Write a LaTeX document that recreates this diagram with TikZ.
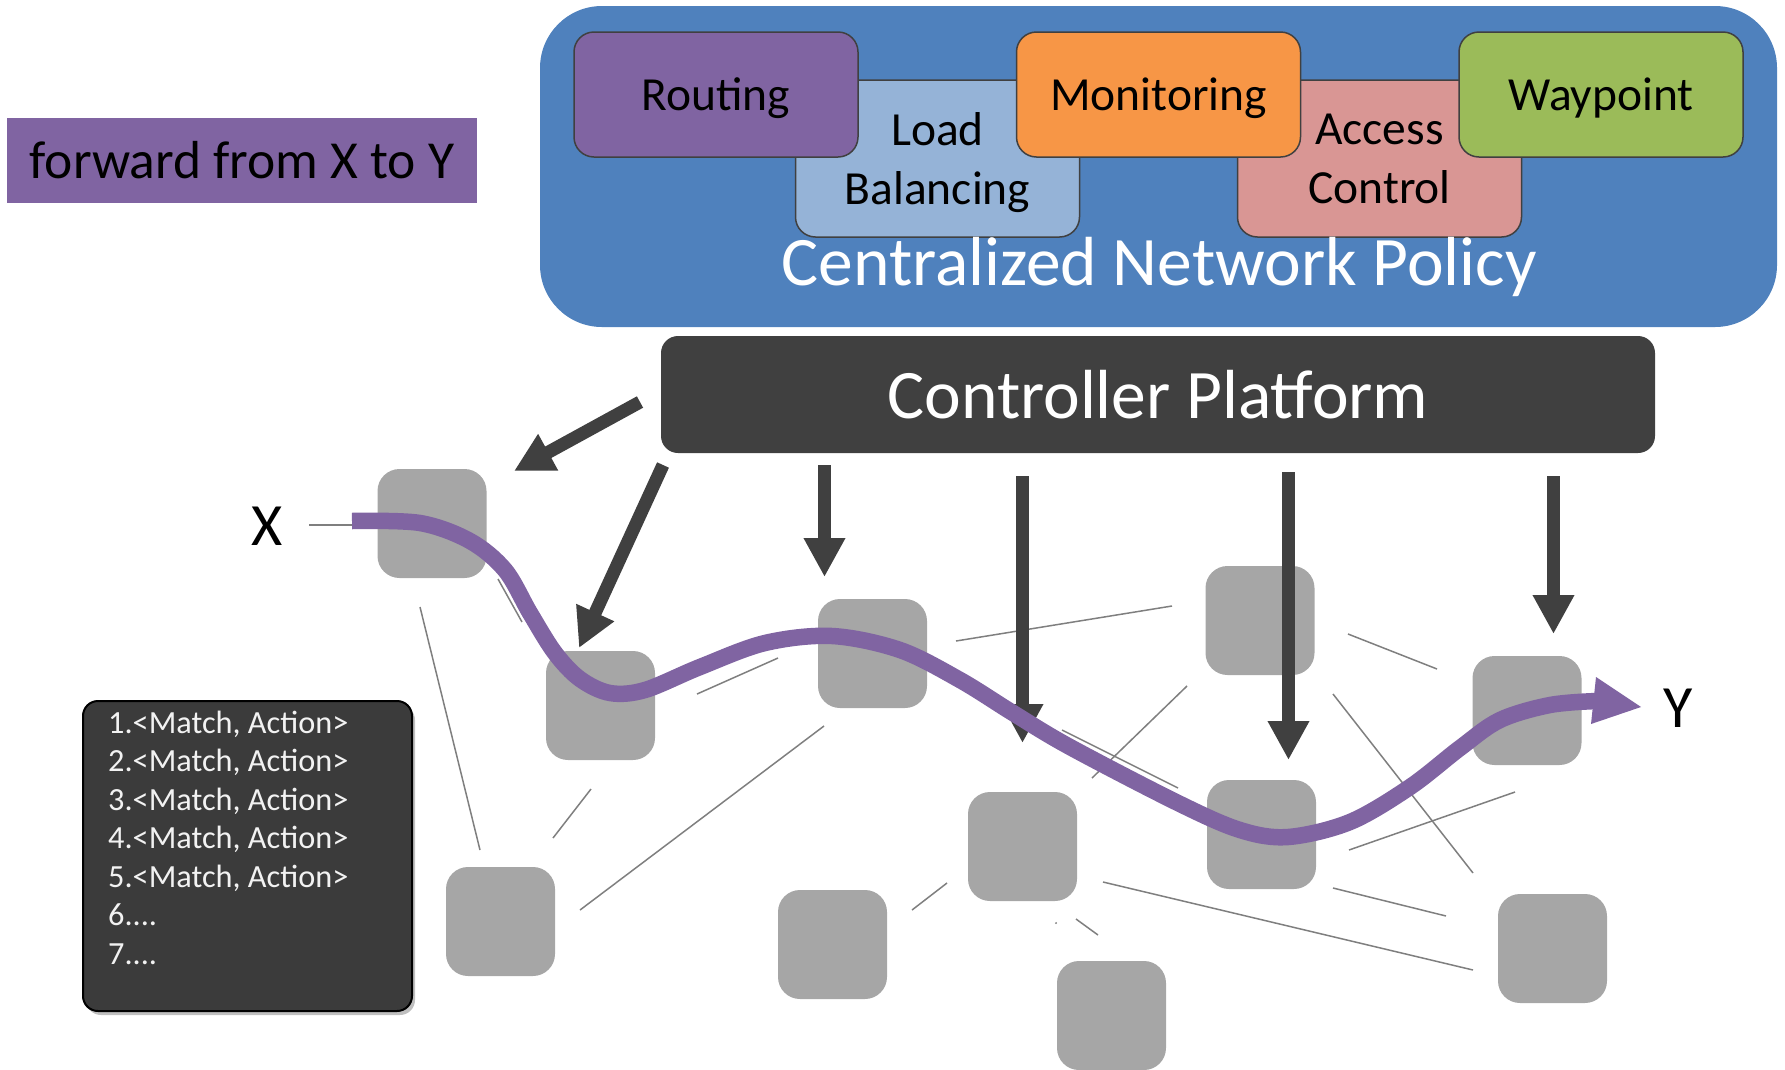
\documentclass[tikz,border=0pt]{standalone}
\usepackage{fontspec}
\setmainfont{Carlito}
\usetikzlibrary{arrows.meta,shadows}
\definecolor{bgblue}{HTML}{4F81BD}
\definecolor{ctrl}{HTML}{404040}
\definecolor{swgray}{HTML}{A6A6A6}
\definecolor{linkgray}{HTML}{7F7F7F}
\definecolor{ppurple}{HTML}{8064A2}
\definecolor{lbblue}{HTML}{95B3D7}
\definecolor{morange}{HTML}{F79646}
\definecolor{acpink}{HTML}{D99694}
\definecolor{wpgreen}{HTML}{9BBB59}
\definecolor{tablebg}{HTML}{3B3B3B}
\definecolor{tabletext}{HTML}{F2F2F2}
\begin{document}
\begin{tikzpicture}[x=1pt,y=-1pt,
  pbox/.style={draw=ctrl, line width=1.5pt, rounded corners=20pt, minimum width=284pt, inner sep=0pt, align=center, text depth=0pt, font=\fontsize{47.5}{59}\selectfont},
  upper/.style={pbox, minimum height=125pt},
  lower/.style={pbox, minimum height=157pt},
  sw/.style={fill=swgray, rounded corners=22pt, minimum width=109pt, minimum height=109pt, inner sep=0pt},
  link/.style={draw=linkgray, line width=1.5pt},
  ctlarrow/.style={draw=ctrl, line width=13pt, -{Triangle[length=39pt,width=39pt]}},
  matchline/.style={anchor=base west, inner sep=0pt, text=tabletext, font=\fontsize{32.3}{38}\selectfont}
]
\useasboundingbox (0,0) rectangle (1785,1069);

% centralized policy background
\node[fill=bgblue, rounded corners=62pt, minimum width=1237pt, minimum height=321pt, inner sep=0pt] (policy) at (1158.5,166.5) {};
\node[lower, fill=lbblue] (lb) at (937.5,158.5) {Load\\Balancing};
\node[lower, fill=acpink] (ac) at (1379.5,158.5) {Access\\Control};
\node[upper, fill=ppurple] (routing) at (716,94.5) {Routing};
\node[upper, fill=morange] (monitoring) at (1158.5,94.5) {Monitoring};
\node[upper, fill=wpgreen] (waypoint) at (1601,94.5) {Waypoint};
\node[text=white, inner sep=0pt, font=\fontsize{69.5}{80}\selectfont] (policytext) at (1159,267) {Centralized Network Policy};

% controller platform
\node[fill=ctrl, rounded corners=17pt, minimum width=994pt, minimum height=117pt, inner sep=0pt, text=white, font=\fontsize{69.5}{80}\selectfont] (controller) at (1158,394.5) {Controller Platform};

% goal box
\node[fill=ppurple, minimum width=470pt, minimum height=85pt, inner sep=0pt, font=\fontsize{53.5}{62}\selectfont] (goal) at (242,160.5) {forward from X to Y};

% links (drawn below switches)
\foreach \n/\ax/\ay/\bx/\by in {1/309/525/352/525, 2/420/607/480/850, 3/498/579/522/622, 4/697/694/778/658,
  5/553/838/591/789, 6/580/910/824/726, 7/956/641/1172/606, 8/1348/634/1437/669, 9/1092/778/1187/686,
  10/1333/694/1473/873, 11/1062/730/1178/788, 12/1349/850/1515/792, 13/1333/888/1446/916,
  14/1103/882/1473/970, 15/912/910/947/883, 16/1076/919/1098/935, 17/1055.5/922.5/1056.5/923.5}{
  \coordinate (l\n a) at (\ax,\ay);
  \coordinate (l\n b) at (\bx,\by);
  \draw[link] (l\n a) -- (l\n b);
}

% switches
\node[sw] (s1) at (432,523.5) {};
\node[sw] (s2) at (600.5,705.5) {};
\node[sw] (s3) at (872.5,653.5) {};
\node[sw] (s4) at (1260,620.5) {};
\node[sw] (s5) at (1527,710.5) {};
\node[sw] (s6) at (1022.5,846.5) {};
\node[sw] (s7) at (1261.5,834.5) {};
\node[sw] (s8) at (500.5,921.5) {};
\node[sw] (s9) at (832.5,944.5) {};
\node[sw] (s10) at (1111.5,1015.5) {};
\node[sw] (s11) at (1552.5,948.5) {};

% controller arrows
\foreach \n/\ax/\ay/\bx/\by in {1/640/402/514/471, 2/663/465/579/648, 3/824.5/465/824.5/577,
  4/1022.5/476/1022.5/743, 5/1288.5/472/1288.5/760, 6/1553.5/476/1553.5/634}{
  \coordinate (a\n s) at (\ax,\ay);
  \coordinate (a\n e) at (\bx,\by);
  \draw[ctlarrow] (a\n s) -- (a\n e);
}

% path from X to Y
\coordinate (pstart) at (352,521);
\coordinate (pbase) at (1597,701);
\coordinate (pend) at (1641,707);
\coordinate (headA) at (1596,677);
\coordinate (headB) at (1591,724);
\draw[ppurple, line width=16.5pt]
  plot[smooth, tension=0.55] coordinates {(352,521) (420,523) (470,541) (505,570) (530,613) (555,653) (580,679) (610,693) (645,690) (700,667) (765,643) (832,636) (900,650) (960,680) (1013,713) (1070,747) (1178,803) (1240,830) (1288,837) (1350,822) (1410,787) (1460,748) (1500,720) (1550,705) (1597,701)};
\fill[ppurple] (headA) -- (pend) -- (headB) -- cycle;

% labels X and Y
\node[inner sep=0pt, font=\fontsize{60}{70}\selectfont] (xlabel) at (267,526) {X};
\node[inner sep=0pt, font=\fontsize{60}{70}\selectfont] (ylabel) at (1678,708) {Y};

% flow table
\node[fill=tablebg, draw=black, line width=2pt, rounded corners=15pt, minimum width=329pt, minimum height=310pt, inner sep=0pt,
  drop shadow={shadow xshift=3pt, shadow yshift=-4pt, opacity=0.25, fill=black}] (table) at (247.5,856) {};
\node[matchline] (m1) at (108,733) {1.<Match, Action>};
\node[matchline] (m2) at (108,771.5) {2.<Match, Action>};
\node[matchline] (m3) at (108,810) {3.<Match, Action>};
\node[matchline] (m4) at (108,848.5) {4.<Match, Action>};
\node[matchline] (m5) at (108,887) {5.<Match, Action>};
\node[matchline] (m6) at (108,925.5) {6....};
\node[matchline] (m7) at (108,964) {7....};
\end{tikzpicture}
\end{document}
